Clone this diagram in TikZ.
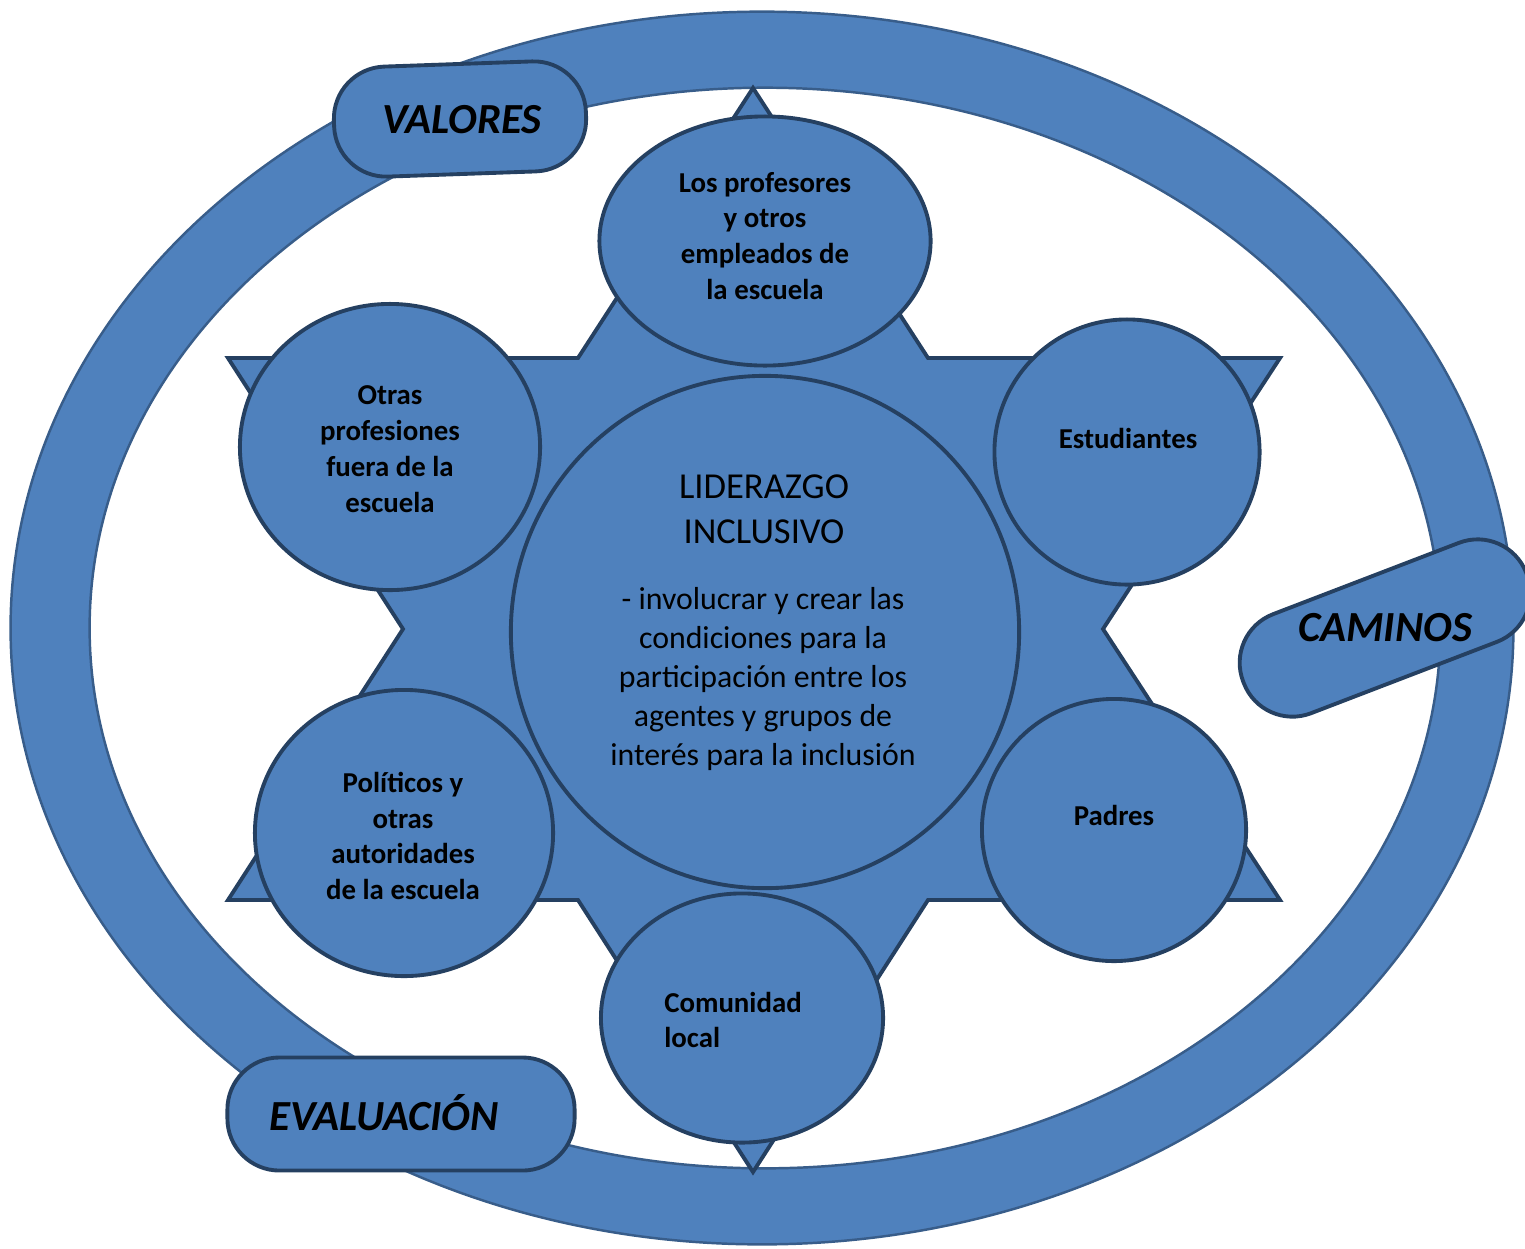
\documentclass[tikz,border=0pt]{standalone}
\usepackage{fontspec}
\setmainfont{Carlito}
\usetikzlibrary{shapes.geometric}
\definecolor{fillblue}{HTML}{4F81BD}
\definecolor{edgeblue}{HTML}{254061}
\definecolor{ringedge}{HTML}{385D8A}
\tikzset{
  agent/.style={ellipse,draw=edgeblue,fill=fillblue,line width=1.1pt,inner sep=0pt},
  agenttext/.style={font=\fontsize{8.2}{10.2}\selectfont\bfseries,align=center,inner sep=0pt},
  tagbox/.style={draw=edgeblue,fill=fillblue,line width=1.1pt,rounded corners=0.52cm,inner sep=0pt,minimum height=1.08cm},
  tagtext/.style={font=\fontsize{12.2}{14}\selectfont\bfseries\itshape,inner sep=0pt}
}

\begin{document}
\begin{tikzpicture}[x=0.01cm,y=-0.01cm]
\useasboundingbox (0,0) rectangle (1525,1248);
\draw[ringedge,line width=0.7pt,fill=fillblue,even odd rule] (762,628) ellipse [x radius=7.51cm,y radius=6.16cm]
  (765,628) ellipse [x radius=6.75cm,y radius=5.40cm];
\draw[edgeblue,line width=1.1pt,fill=fillblue] (753,88) -- (928,358) -- (1280,358) -- (1103,629) -- (1280,900)
  -- (928,900) -- (753,1172) -- (578,900) -- (228,900) -- (403,629) -- (228,358) -- (578,358) -- cycle;
\node[agent,minimum width=5.08cm,minimum height=5.12cm] (lider) at (765,632) {};
\node[agent,minimum width=3.31cm,minimum height=2.49cm] (prof) at (765,241) {};
\node[agent,minimum width=2.65cm,minimum height=2.65cm] (estud) at (1127,452) {};
\node[agent,minimum width=2.64cm,minimum height=2.62cm] (padres) at (1114,830) {};
\node[agent,minimum width=2.82cm,minimum height=2.49cm] (comun) at (742,1018) {};
\node[agent,minimum width=2.98cm,minimum height=2.86cm] (polit) at (404,833) {};
\node[agent,minimum width=3.00cm,minimum height=2.86cm] (otras) at (390,447) {};
\node[agenttext] (proftxt) at (765,236) {Los profesores\\y otros\\empleados de\\la escuela};
\node[agenttext] (estudtxt) at (1128,438) {Estudiantes};
\node[agenttext] (padrestxt) at (1114,815) {Padres};
\node[agenttext,align=left] (comuntxt) at (733,1020) {Comunidad\\local};
\node[agenttext] (polittxt) at (403,836) {Políticos y\\otras\\autoridades\\de la escuela};
\node[agenttext] (otrastxt) at (390,449) {Otras\\profesiones\\fuera de la\\escuela};
\node[font=\fontsize{10.4}{12.8}\selectfont,align=center,inner sep=0pt] (lidertitle) at (764,509) {LIDERAZGO\\INCLUSIVO};
\node[font=\fontsize{9.05}{11.1}\selectfont,align=center,inner sep=0pt] (liderbody) at (763,679)
  {- involucrar y crear las\\condiciones para la\\participación entre los\\agentes y grupos de\\interés para la inclusión};
\node[tagbox,rotate=2,minimum width=2.52cm,minimum height=1.1cm] (valores) at (460,119) {};
\node[tagbox,rotate=21,minimum width=3.03cm,minimum height=1.06cm] (caminos) at (1385,628) {};
\node[tagbox,minimum width=3.47cm,minimum height=1.13cm] (evaluacion) at (401,1114) {};
\node[tagtext] (valorestxt) at (462,120) {VALORES};
\node[tagtext] (caminostxt) at (1385,628) {CAMINOS};
\node[tagtext] (evaluaciontxt) at (384,1113) {EVALUACIÓN};
\end{tikzpicture}
\end{document}
